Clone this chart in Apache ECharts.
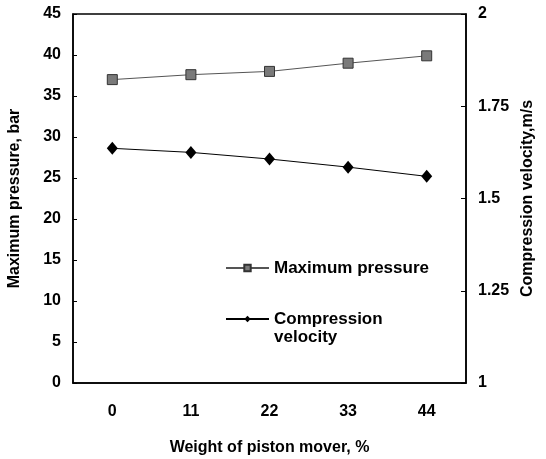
<!DOCTYPE html>
<html>
<head>
<meta charset="utf-8">
<script src="https://cdn.jsdelivr.net/npm/echarts@6/dist/echarts.min.js"></script>
<style>
html,body{margin:0;padding:0;background:#fff;}
#chart{width:546px;height:459px;}
</style>
</head>
<body>
<div id="chart"></div>
<script>
const categories = ['0', '11', '22', '33', '44'];
const maxPressure = [37.0, 37.6, 38.0, 39.0, 39.9];
const compressionVelocity = [1.636, 1.625, 1.607, 1.585, 1.560];
const leftTicks = [0, 5, 10, 15, 20, 25, 30, 35, 40, 45];
const rightTicks = [1, 1.25, 1.5, 1.75, 2];

const FONT = '"Liberation Sans", Arial, sans-serif';
const chart = echarts.init(document.getElementById('chart'), null, {renderer: 'canvas'});
const axisText = {fontFamily: FONT, fontWeight: 'bold', fontSize: 16, color: '#000'};

chart.setOption({
  backgroundColor: '#fff',
  animation: false,
  grid: {left: 73, right: 80, top: 14, bottom: 76, show: true, borderColor: '#000', borderWidth: 1.5,
         containLabel: false, outerBoundsMode: 'none'},
  legend: [{
    data: ['Maximum pressure'],
    orient: 'vertical', left: 225, top: 259, padding: 0,
    itemWidth: 43, itemHeight: 8,
    textStyle: {fontFamily: FONT, fontWeight: 'bold', fontSize: 17, color: '#000', lineHeight: 18}
  }, {
    data: ['Compression velocity'],
    orient: 'vertical', left: 225, top: 292, padding: 0,
    itemWidth: 43, itemHeight: 8,
    formatter: function () { return ' \nCompression\nvelocity'; },
    textStyle: {fontFamily: FONT, fontWeight: 'bold', fontSize: 17, color: '#000', lineHeight: 18}
  }],
  xAxis: {
    type: 'category', data: categories, boundaryGap: true,
    name: 'Weight of piston mover, %', nameLocation: 'middle', nameGap: 57,
    nameTextStyle: {fontFamily: FONT, fontWeight: 'bold', fontSize: 16, color: '#000'},
    axisLine: {lineStyle: {color: '#000', width: 1.5}},
    axisTick: {inside: true, length: 4, lineStyle: {color: '#000'}},
    axisLabel: Object.assign({margin: 21}, axisText),
    splitLine: {show: false}
  },
  yAxis: [{
    type: 'value', min: leftTicks[0], max: leftTicks[leftTicks.length - 1], interval: 5,
    name: 'Maximum pressure, bar', nameLocation: 'middle', nameGap: 50, nameRotate: 90,
    nameTextStyle: {fontFamily: FONT, fontWeight: 'bold', fontSize: 16, color: '#000'},
    axisLine: {show: true, lineStyle: {color: '#000', width: 1.5}},
    axisTick: {show: true, inside: true, length: 4, lineStyle: {color: '#000'}},
    axisLabel: Object.assign({margin: 12}, axisText),
    splitLine: {show: false}
  }, {
    type: 'value', position: 'right', min: rightTicks[0], max: rightTicks[rightTicks.length - 1], interval: 0.25,
    name: 'Compression velocity,m/s', nameLocation: 'middle', nameGap: 53, nameRotate: 90,
    nameTextStyle: {fontFamily: FONT, fontWeight: 'bold', fontSize: 16, color: '#000'},
    axisLine: {show: true, lineStyle: {color: '#000', width: 1.5}},
    axisTick: {show: true, inside: true, length: 5, lineStyle: {color: '#000'}},
    axisLabel: Object.assign({margin: 12, formatter: function (v) { return String(v); }}, axisText),
    splitLine: {show: false}
  }],
  series: [{
    name: 'Maximum pressure', type: 'line', yAxisIndex: 0, data: maxPressure,
    symbol: 'rect', symbolSize: 10,
    lineStyle: {color: '#555', width: 1},
    itemStyle: {color: '#7a7a7a', borderColor: '#333', borderWidth: 1}
  }, {
    name: 'Compression velocity', type: 'line', yAxisIndex: 1, data: compressionVelocity,
    symbol: 'diamond', symbolSize: [11, 13],
    lineStyle: {color: '#000', width: 1},
    itemStyle: {color: '#000'}
  }]
});
</script>
</body>
</html>
